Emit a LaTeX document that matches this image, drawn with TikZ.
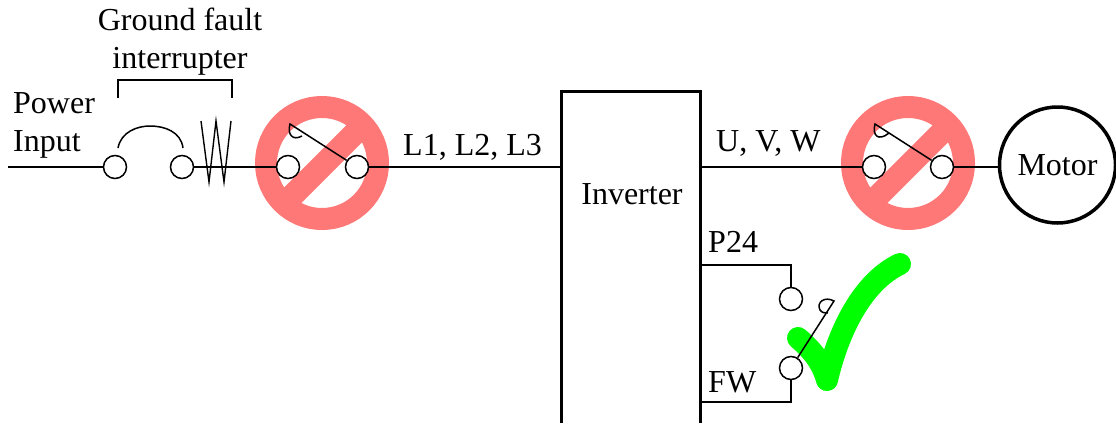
\documentclass[tikz,border=0pt]{standalone}
\usepackage{fontspec}
\setmainfont{Liberation Serif}

\begin{document}
\begin{tikzpicture}[
    x=1pt, y=-1pt,
    label/.style={inner sep=0pt, font=\fontsize{32}{38}\selectfont},
    terminal/.style={circle, draw=black, line width=1.5pt, fill=white,
        minimum size=23pt, inner sep=0pt},
    wire/.style={line width=2.2pt, -},
    arm/.style={line width=1.5pt, -},
    forbid/.style={draw=forbidred, line width=22pt},
    forbidbar/.style={draw=forbidred, line width=23pt},
    tick/.style={draw=tickgreen, line width=22pt, line cap=round, line join=round},
    housing/.style={line width=3pt, -}
]
    \definecolor{forbidred}{RGB}{255,120,120}
    \definecolor{tickgreen}{RGB}{0,255,0}
    \useasboundingbox (0,0) rectangle (1116,423);

    % signs go under the circuit
    \draw[forbid] (322,163) circle (56);
    \draw[forbidbar] (287,201) -- (359,129);
    \draw[forbid] (908,163) circle (56);
    \draw[forbidbar] (873,201) -- (945,129);
    \draw[tick] (798,338) .. controls (812,350) and (822,362) .. (827,380)
        .. controls (838,332) and (862,282) .. (900,264);

    \node[label, align=center] (gfi) at (180,42) {Ground fault\\interrupter};
    \node[label, align=left, anchor=west] (power) at (13,125) {Power\\Input};
    \node[label, anchor=base west] (lines) at (403,155) {L1, L2, L3};
    \node[label, anchor=base west] (uvw) at (716,151) {U, V, W};
    \node[label, anchor=base west] (p24) at (708,252) {P24};
    \node[label, anchor=base west] (fw) at (708,392) {FW};
    \node[label, anchor=base] (inverter) at (632,204) {Inverter};

    \node[terminal] (t1) at (115,167) {};
    \node[terminal] (t2) at (182,167) {};
    \node[terminal] (t3) at (288,167) {};
    \node[terminal] (t4) at (357,167) {};
    \node[terminal] (t5) at (874,167) {};
    \node[terminal] (t6) at (942,167) {};
    \node[terminal] (t7) at (791,299) {};
    \node[terminal] (t8) at (791,368) {};
    \node[circle, draw=black, line width=3.5pt, minimum size=116pt, inner sep=0pt,
        label] (motor) at (1057.5,165) {Motor};

    \coordinate (in) at (8,167);
    \coordinate (inv_l) at (561,167);
    \coordinate (inv_u) at (700,167);
    \coordinate (inv_p) at (700,265);
    \coordinate (inv_f) at (700,402);
    \coordinate (motor_in) at (998,167);

    \draw[housing] (561,423) -- (561,91) -- (700,91) -- (700,423);

    \draw[wire] (in) -- (t1);
    \draw[wire] (t2) -- (t3);
    \draw[wire] (t4) -- (inv_l);
    \draw[wire] (inv_u) -- (t5);
    \draw[wire] (t6) -- (motor_in);
    \draw[wire] (inv_p) -| (t7);
    \draw[wire] (inv_f) -| (t8);

    % bracket, breaker arc and fuse
    \draw[line width=2.4pt] (118,98) -- (118,80) -- (232,80) -- (232,98);
    \draw[arm] (118,148) .. controls (121,132) and (137,126) .. (150,126)
        .. controls (165,126) and (181,132) .. (183,148);
    \draw[line width=1.4pt] (201,121) -- (209,182) -- (216,121) -- (224,182) -- (231,121);

    % switch arms
    \draw[arm] (t4) -- (290,124) .. controls (287,135) and (293,141) .. (302,136);
    \draw[arm] (t6) -- (875,124) .. controls (872,135) and (878,142) .. (889,133);
    \draw[arm] (t8) -- (834,301) .. controls (825,296) and (816,302) .. (820,310)
        .. controls (822,313) and (825,313) .. (828,313);
\end{tikzpicture}
\end{document}
